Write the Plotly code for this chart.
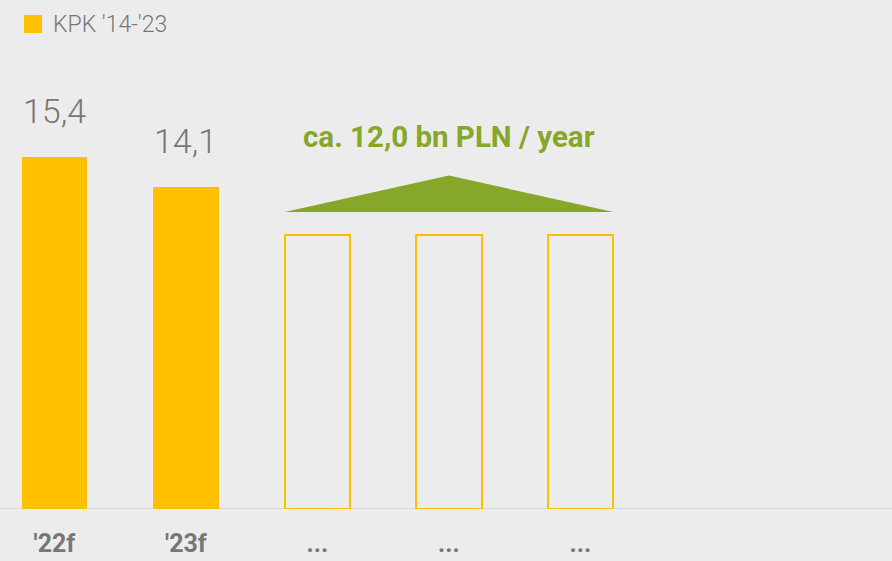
import plotly.graph_objects as go

# Data
categories = ["'22f", "'23f", "...", "...", "..."]
actual_values = [15.4, 14.1]
projected_value = 12.0
value_labels = ["15,4", "14,1"]
legend_label = "KPK '14-'23"
projection_label = "ca. 12,0 bn PLN / year"

YELLOW = "#FFC000"
GREEN = "#86A729"
GREY_TEXT = "#777777"
BG = "#ECECEC"
BAR_W = 0.5

x_all = list(range(len(categories)))
x_actual = x_all[:len(actual_values)]
x_proj = x_all[len(actual_values):]

fig = go.Figure()

# Filled bars for forecast years
fig.add_trace(go.Bar(
    x=x_actual, y=actual_values, width=BAR_W,
    marker=dict(color=YELLOW, line=dict(width=0)),
    showlegend=False, hoverinfo="skip",
))

# Outlined bars for subsequent years
fig.add_trace(go.Bar(
    x=x_proj, y=[projected_value] * len(x_proj), width=BAR_W,
    marker=dict(color="rgba(0,0,0,0)", line=dict(color=YELLOW, width=2)),
    showlegend=False, hoverinfo="skip",
))

# Green "roof" spanning the projected bars
left = x_proj[0] - BAR_W / 2
right = x_proj[-1] + BAR_W / 2
mid = (left + right) / 2
roof_base = projected_value + 1.0
roof_top = projected_value + 2.6
fig.add_trace(go.Scatter(
    x=[left, mid, right, left], y=[roof_base, roof_top, roof_base, roof_base],
    mode="lines", fill="toself", fillcolor=GREEN,
    line=dict(color=GREEN, width=0), showlegend=False, hoverinfo="skip",
))

# Value labels above the filled bars
for xv, v, t in zip(x_actual, actual_values, value_labels):
    fig.add_annotation(
        x=xv, y=v, text=t, showarrow=False, yanchor="bottom", yshift=24,
        font=dict(family="Roboto", size=34, color=GREY_TEXT, weight=300),
    )

fig.add_annotation(
    x=mid, y=roof_top, text=f"<b>{projection_label}</b>", showarrow=False,
    yanchor="bottom", yshift=20,
    font=dict(family="Roboto", size=29.5, color=GREEN),
)

# Legend drawn as a swatch and a label
fig.add_shape(type="rect", xref="paper", yref="paper",
              x0=24 / 892, x1=42 / 892, y0=1 - 33 / 509, y1=1 - 15 / 509,
              fillcolor=YELLOW, line=dict(width=0))
fig.add_annotation(xref="paper", yref="paper", x=51 / 892, y=1 - 25 / 509,
                   xanchor="left", yanchor="middle", text=legend_label, showarrow=False,
                   font=dict(family="Roboto", size=23, color=GREY_TEXT, weight=300))

fig.update_layout(
    width=892, height=561,
    margin=dict(l=0, r=0, t=0, b=52),
    paper_bgcolor=BG, plot_bgcolor=BG,
    bargap=0, barmode="overlay",
    xaxis=dict(
        range=[-0.414, 6.369], tickmode="array", tickvals=x_all, ticktext=categories,
        showgrid=False, zeroline=False, showline=False, ticks="",
        tickfont=dict(family="Roboto", size=25, color=GREY_TEXT, weight="bold"),
        ticklabelstandoff=17, automargin=False, fixedrange=True,
    ),
    yaxis=dict(
        range=[0, 509 / 22.84], showgrid=False, zeroline=False, showline=False,
        showticklabels=False, ticks="", automargin=False, fixedrange=True,
    ),
)

# Baseline
fig.add_shape(type="line", xref="paper", yref="y", x0=0, x1=1, y0=0, y1=0,
              line=dict(color="#D9D9D9", width=2), layer="below")

fig.write_html("out.html", config={"displayModeBar": False})
